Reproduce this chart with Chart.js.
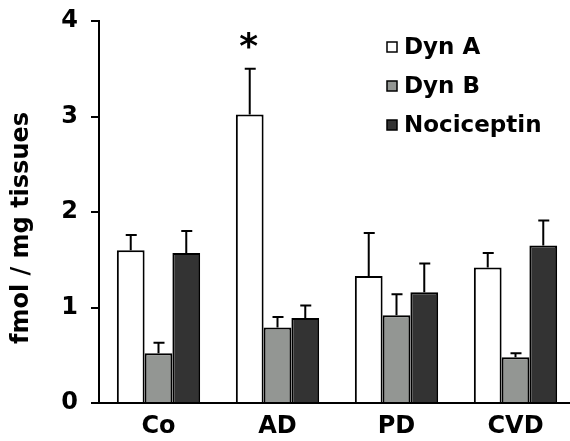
<!DOCTYPE html>
<html>
<head>
<meta charset="utf-8">
<script src="https://cdn.jsdelivr.net/npm/chart.js@4.4.0/dist/chart.umd.min.js"></script>
<style>
  html, body { margin: 0; padding: 0; background: #fff; overflow: hidden; }
  #wrap { width: 570px; height: 441px; overflow: hidden; }
</style>
</head>
<body>
<div id="wrap"><canvas id="myChart" width="576" height="441"></canvas></div>
<script>
// data
const groups = ["Co", "AD", "PD", "CVD"];
const dynA = [1.60, 3.02, 1.33, 1.42];
const dynAErr = [0.16, 0.48, 0.45, 0.15];
const dynB = [0.52, 0.79, 0.92, 0.48];
const dynBErr = [0.11, 0.11, 0.22, 0.04];
const nociceptin = [1.57, 0.89, 1.16, 1.65];
const nociceptinErr = [0.23, 0.13, 0.30, 0.26];
const dynAMarks = ["", "*", "", ""];
const yTicks = [0, 1, 2, 3, 4];

const FONT = "DejaVu Sans";

Chart.defaults.font.family = FONT;
Chart.defaults.font.weight = "bold";
Chart.defaults.color = "#000";

// upper error bars + significance star
const errorBars = {
  id: "errorBars",
  afterDatasetsDraw(chart) {
    const ctx = chart.ctx;
    const y = chart.scales.y;
    ctx.save();
    ctx.strokeStyle = "#000";
    ctx.lineWidth = 2;
    chart.data.datasets.forEach((ds, di) => {
      const meta = chart.getDatasetMeta(di);
      meta.data.forEach((bar, i) => {
        const top = y.getPixelForValue(ds.data[i] + ds.errors[i]);
        ctx.beginPath();
        ctx.moveTo(bar.x, bar.y);
        ctx.lineTo(bar.x, top);
        ctx.moveTo(bar.x - 5, top);
        ctx.lineTo(bar.x + 6, top);
        ctx.stroke();
        if (ds.marks && ds.marks[i]) {
          ctx.fillStyle = "#000";
          ctx.font = "bold 36px " + FONT;
          ctx.textAlign = "center";
          ctx.textBaseline = "middle";
          ctx.fillText(ds.marks[i], bar.x - 1, top - 20);
        }
      });
    });
    ctx.restore();
  }
};

// legend in the upper right + rotated y title
const decorations = {
  id: "decorations",
  afterDraw(chart) {
    const ctx = chart.ctx;
    ctx.save();
    ctx.textBaseline = "middle";
    ctx.textAlign = "left";
    ctx.font = "bold 23px " + FONT;
    chart.data.datasets.forEach((ds, i) => {
      const cy = 47 + i * 39;
      ctx.fillStyle = ds.backgroundColor;
      ctx.fillRect(387, cy - 5, 10, 10);
      ctx.strokeStyle = "#000";
      ctx.lineWidth = 1.5;
      ctx.strokeRect(387, cy - 5, 10, 10);
      ctx.fillStyle = "#000";
      ctx.fillText(ds.label, 404, cy + 1);
    });
    ctx.translate(22, 228);
    ctx.rotate(-Math.PI / 2);
    ctx.textAlign = "center";
    ctx.font = "bold 24px " + FONT;
    ctx.fillText("fmol / mg tissues", 0, 0);
    ctx.restore();
  }
};

const barStyle = {
  borderColor: "#000",
  borderWidth: 2,
  categoryPercentage: 0.7,
  barPercentage: 1.0
};

new Chart(document.getElementById("myChart"), {
  type: "bar",
  data: {
    labels: groups,
    datasets: [
      { label: "Dyn A", data: dynA, errors: dynAErr, marks: dynAMarks, backgroundColor: "#ffffff", ...barStyle },
      { label: "Dyn B", data: dynB, errors: dynBErr, backgroundColor: "#939693", ...barStyle },
      { label: "Nociceptin", data: nociceptin, errors: nociceptinErr, backgroundColor: "#333333", ...barStyle }
    ]
  },
  options: {
    responsive: false,
    animation: false,
    layout: { padding: { top: 0, right: 1, left: 0, bottom: 0 } },
    plugins: {
      legend: { display: false },
      tooltip: { enabled: false }
    },
    scales: {
      x: {
        grid: { display: false, drawTicks: false },
        border: { color: "#000", width: 2 },
        ticks: { padding: 9, font: { size: 24, weight: "bold" } },
        afterFit(scale) { scale.height = 38; }
      },
      y: {
        min: 0,
        max: 4,
        afterBuildTicks(scale) { scale.ticks = yTicks.map(v => ({ value: v })); },
        grid: { drawOnChartArea: false, color: "#000", lineWidth: 2, tickLength: 8 },
        border: { color: "#000", width: 2 },
        ticks: { padding: 13, font: { size: 24, weight: "bold" } },
        afterFit(scale) {
          scale.width = 99;
          scale.paddingTop = 21;
          scale.paddingBottom = 0;
        }
      }
    }
  },
  plugins: [errorBars, decorations]
});
</script>
</body>
</html>
